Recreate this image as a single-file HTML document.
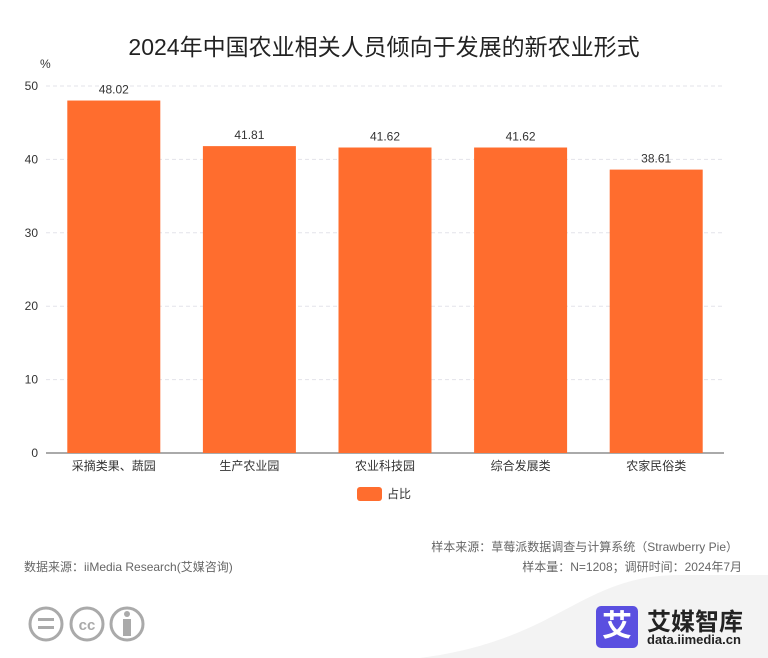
<!DOCTYPE html>
<html><head><meta charset="utf-8"><style>
body{margin:0;width:768px;height:658px;background:#fff;font-family:"Liberation Sans","Noto Sans CJK SC",sans-serif;position:relative;overflow:hidden}
.t{position:absolute;white-space:nowrap}
</style></head><body>
<div class="t" style="left:0;width:768px;text-align:center;top:28px;font-size:23px;color:#222">2024年中国农业相关人员倾向于发展的新农业形式</div>
<svg id="c" width="768" height="658" style="position:absolute;left:0;top:0">
<path d="M420 658 C560 640 580 575 680 575 L768 575 L768 658 Z" fill="#f3f3f3"/>
</svg>
<div class="t" style="right:30px;top:538px;font-size:12px;color:#666">样本来源：草莓派数据调查与计算系统（Strawberry Pie）</div>
<div class="t" style="left:24px;top:558px;font-size:12px;color:#666">数据来源：iiMedia Research(艾媒咨询)</div>
<div class="t" style="right:26px;top:558px;font-size:12px;color:#666">样本量：N=1208；调研时间：2024年7月</div>
<svg width="130" height="44" style="position:absolute;left:28px;top:604px">
<g fill="none" stroke="#aaa" stroke-width="3"><circle cx="18" cy="20" r="16"/><circle cx="59" cy="20" r="16"/><circle cx="99" cy="20" r="16"/></g>
<rect x="10" y="14" width="16" height="3" fill="#aaa"/><rect x="10" y="22" width="16" height="3" fill="#aaa"/>
<text x="59" y="26" text-anchor="middle" font-size="15" font-weight="bold" fill="#aaa">cc</text>
<circle cx="99" cy="10" r="3" fill="#aaa"/><rect x="95" y="15" width="8" height="17" fill="#aaa"/>
</svg>
<div style="position:absolute;left:596px;top:606px;width:42px;height:42px;background:#5a4fe0;border-radius:5px;color:#fff;font-size:30px;font-weight:bold;text-align:center;line-height:42px">艾</div>
<div class="t" style="left:647px;top:602px;font-size:24px;font-weight:bold;color:#222">艾媒智库</div>
<div class="t" style="left:647px;top:632px;font-size:13px;font-weight:bold;color:#222">data.iimedia.cn</div>
<script>
const categories=["采摘类果、蔬园","生产农业园","农业科技园","综合发展类","农家民俗类"];
const values=[48.02,41.81,41.62,41.62,38.61];
const yTicks=[0,10,20,30,40,50];
const svg=document.getElementById('c');const NS='http://www.w3.org/2000/svg';
const x0=46,x1=724,yb=453,yt=86,ymax=50;
const y=v=>yb-(v/ymax)*(yb-yt);
const band=(x1-x0)/categories.length;
function mk(t,a,txt){const e=document.createElementNS(NS,t);for(const k in a)e.setAttribute(k,a[k]);if(txt!=null)e.textContent=txt;svg.appendChild(e);return e;}
yTicks.forEach(v=>{
 if(v>0){const g=mk('line',{x1:x0,x2:x1,y1:y(v),y2:y(v),stroke:'#e3e3ea','stroke-dasharray':'4,3'});
 
 }
 const t=mk('text',{x:38,y:y(v)+4,'text-anchor':'end','font-size':12,fill:'#333'},v);
 
 
});
const u=mk('text',{x:40,y:68,'font-size':12,fill:'#333'},'%');


const ax=mk('line',{x1:x0,x2:x1,y1:yb,y2:yb,stroke:'#555'});


categories.forEach((c,i)=>{
 const cx=x0+band*(i+0.5),bw=93;
 const r=mk('rect',{x:cx-bw/2,y:y(values[i]),width:bw,height:yb-y(values[i]),fill:'#ff6d2e'});
 
 
 const l=mk('text',{x:cx,y:y(values[i])-7,'text-anchor':'middle','font-size':12,fill:'#333'},values[i].toFixed(2));
 
 
 const t=mk('text',{x:cx,y:yb+17,'text-anchor':'middle','font-size':12,fill:'#333'},c);
 
 
});
const lg=mk('rect',{x:357,y:487,width:25,height:14,rx:3,fill:'#ff6d2e'});


const lt=mk('text',{x:387,y:498,'font-size':12,fill:'#333'},'占比');


</script>
</body></html>
